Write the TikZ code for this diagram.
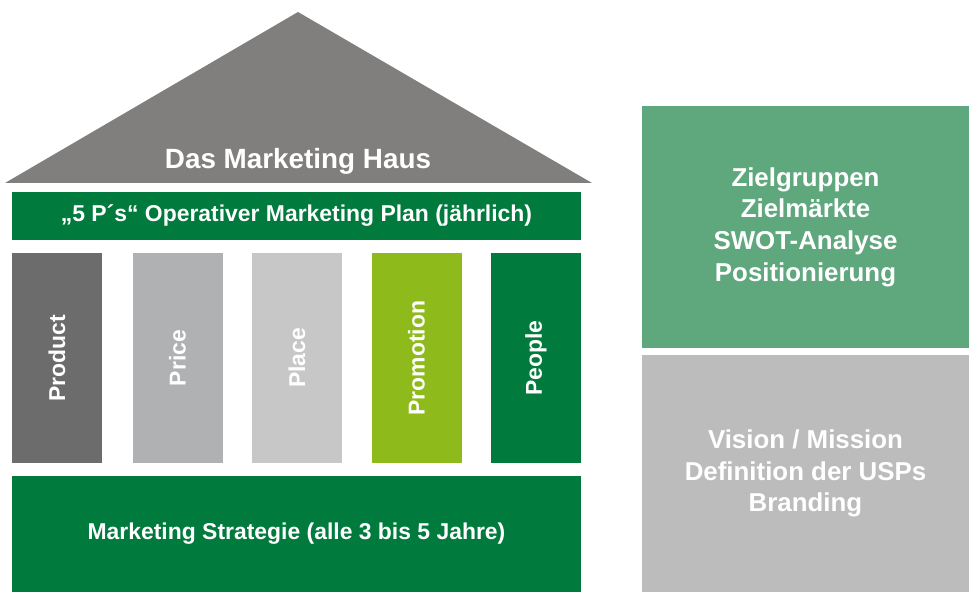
\documentclass[tikz,border=0pt]{standalone}
\usepackage{fontspec}
\setmainfont{Liberation Sans}
\usepackage{tikz}
\usetikzlibrary{positioning}
\definecolor{roofgray}{HTML}{807F7D}
\definecolor{hausgreen}{HTML}{007A3D}
\definecolor{productgray}{HTML}{6C6C6C}
\definecolor{pricegray}{HTML}{B0B1B2}
\definecolor{placegray}{HTML}{C6C7C6}
\definecolor{promogreen}{HTML}{8FBA1C}
\definecolor{zielgreen}{HTML}{5FA77C}
\definecolor{visiongray}{HTML}{BBBCBB}
\tikzset{block/.style={rectangle,fill=#1,text=white,inner sep=0pt,align=center,
    font=\fontsize{16.3}{19}\selectfont\bfseries}}
\tikzset{pillar/.style={block=#1,rotate=90,minimum width=5.25cm,minimum height=2.25cm}}
\tikzset{sidebox/.style={block=#1,minimum width=8.175cm,
    font=\fontsize{18.4}{22.5}\selectfont\bfseries}}

\begin{document}
\begin{tikzpicture}
    \useasboundingbox (0,0) rectangle (24.225,14.8);
    % Dach
    \fill[roofgray] (0.125,10.225) -- (7.45,14.5) -- (14.8,10.225) -- cycle;
    \node[anchor=base,text=white,font=\fontsize{19.8}{24}\selectfont\bfseries] (haus) at (7.45,10.575) {Das Marketing Haus};

    \node[block=hausgreen,minimum width=14.225cm,minimum height=1.2cm] (plan) at (7.4125,9.4) {„5 P´s“ Operativer Marketing Plan (jährlich)};

    \node[pillar=productgray] (product) at (1.425,5.85) {Product};
    \node[pillar=pricegray] (price) at (4.4375,5.85) {Price};
    \node[pillar=placegray] (place) at (7.425,5.85) {Place};
    \node[pillar=promogreen] (promotion) at (10.4125,5.85) {Promotion};
    \node[pillar=hausgreen] (people) at (13.4,5.85) {People};

    \node[block=hausgreen,minimum width=14.225cm,minimum height=2.9cm] (strategie) at (7.4125,1.45) {Marketing Strategie (alle 3 bis 5 Jahre)};

    \node[sidebox=zielgreen,minimum height=6.05cm] (ziel) at (20.1375,9.125) {Zielgruppen\\Zielmärkte\\SWOT-Analyse\\Positionierung};
    \node[sidebox=visiongray,minimum height=5.925cm] (vision) at (20.1375,2.9625) {Vision / Mission\\Definition der USPs\\Branding};
\end{tikzpicture}
\end{document}
